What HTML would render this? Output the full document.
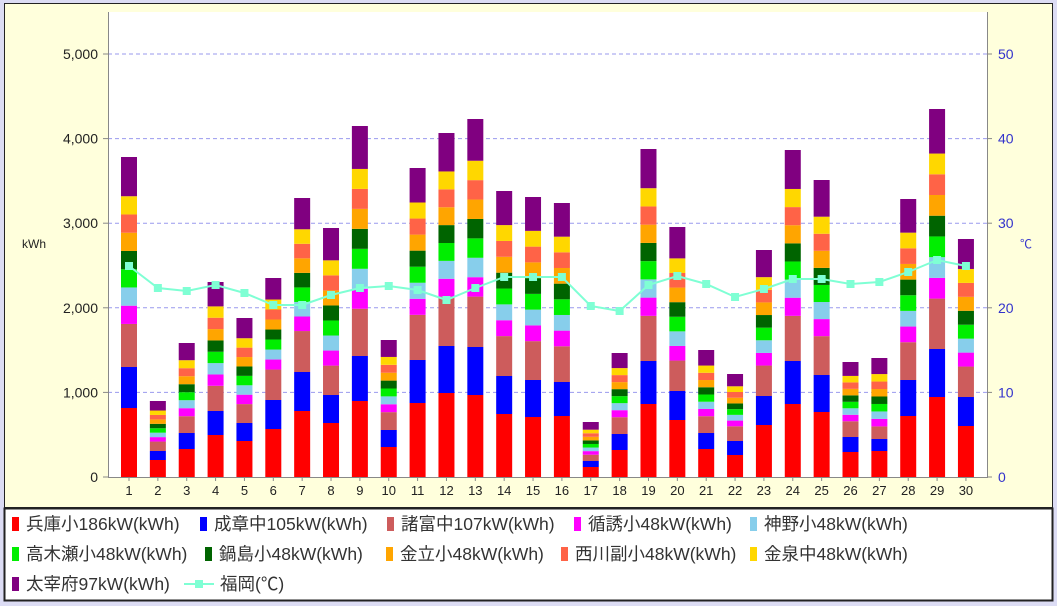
<!DOCTYPE html>
<html><head><meta charset="utf-8"><style>
html,body{margin:0;padding:0;width:1057px;height:606px;overflow:hidden;background:#dcdcf4;}
svg{display:block;font-family:"Liberation Sans","Noto Sans CJK JP",sans-serif;}
</style></head><body>
<svg id="s" width="1057" height="606" xmlns="http://www.w3.org/2000/svg">
<rect x="0" y="0" width="1057" height="606" fill="#dcdcf4"/>
<rect x="4.5" y="3.5" width="1048" height="504" fill="#ffffdc" stroke="#222" stroke-width="1"/>
<rect x="4.5" y="508.5" width="1048" height="92" fill="#fff" stroke="#222" stroke-width="2"/>
<rect x="108" y="12" width="879" height="465" fill="#fff"/>
<g id="g"></g>
<line x1="108.5" y1="12" x2="108.5" y2="478" stroke="#888"/>
<line x1="987.5" y1="12" x2="987.5" y2="478" stroke="#888"/>
<line x1="108" y1="477.5" x2="988" y2="477.5" stroke="#888"/>
<text x="22" y="248" font-size="12" fill="#222">kWh</text>
<text x="1020" y="248" font-size="12" fill="#3333cc">℃</text>
</svg>
<script>
var g=document.getElementById('g'),h='';
var Y0=477,K=84.6/1000;
for(var i=0;i<=5;i++){var y=Y0-i*1000*K;
 if(i>0)h+='<line x1="108" x2="987" y1="'+y+'" y2="'+y+'" stroke="#9999ee" stroke-dasharray="4,3"/>';
 h+='<line x1="103" x2="108" y1="'+y+'" y2="'+y+'" stroke="#888"/><line x1="987" x2="992" y1="'+y+'" y2="'+y+'" stroke="#888"/>';
 h+='<text x="98" y="'+(y+5)+'" font-size="14" text-anchor="end" fill="#222">'+(i==0?'0':i+',000')+'</text>';
 h+='<text x="998" y="'+(y+5)+'" font-size="14" fill="#3333cc">'+(i*10)+'</text>';}
var tot=[157,401,343,282,318,278,198,228,126,340,168,133,119,191,197,203,422,353,149,227,350,374,250,150,180,362,358,199,109,239];
var red=[408,460,449,435,441,429,411,423,401,447,403,393,395,414,417,416,467,450,404,420,449,455,425,404,412,452,451,416,397,426];
var blu=[367,451,433,411,423,400,372,395,356,430,360,346,347,376,380,382,461,434,361,391,433,441,396,361,375,437,439,380,349,397];
var tmp=[266,288,291,285,293,305,305,295,288,286,290,300,288,277,277,277,306,311,285,276,284,297,289,279,279,284,282,272,260,266];
var cols=['#ff0000','#0000ff','#cd5c5c','#ff00ff','#87ceeb','#00ee00','#006400','#ffa500','#ff6347','#ffd700','#800080'];
var w=[1,1,1,1,1,1,1,2.15],pts='';
for(var d=0;d<30;d++){var cx=129+d*28.86,x=cx-8;
 var b=[Y0,red[d],blu[d]];var br=blu[d]-(red[d]-blu[d])*1.05;b.push(br);
 var rest=br-tot[d],cur=br;for(var k=0;k<8;k++){cur-=rest*w[k]/9.15;b.push(cur);}
 for(var k=0;k<11;k++)h+='<rect x="'+x+'" width="16" y="'+b[k+1]+'" height="'+(b[k]-b[k+1])+'" fill="'+cols[k]+'"/>';
 h+='<text x="'+cx+'" y="495" font-size="13" text-anchor="middle" fill="#222">'+(d+1)+'</text>';
 h+='<line x1="'+cx+'" x2="'+cx+'" y1="477" y2="481" stroke="#888"/>';
 pts+=cx+','+tmp[d]+' ';}
h+='<polyline points="'+pts+'" fill="none" stroke="#7fffd4" stroke-width="2"/>';
pts.trim().split(' ').forEach(function(p){var a=p.split(',');h+='<rect x="'+(a[0]-4)+'" y="'+(a[1]-4)+'" width="8" height="8" fill="#7fffd4"/>';});
var L=[[12,524,0,'兵庫小186kW(kWh)'],[200,524,1,'成章中105kW(kWh)'],[387,524,2,'諸富中107kW(kWh)'],[574,524,3,'循誘小48kW(kWh)'],[750,524,4,'神野小48kW(kWh)'],
[12,554,5,'高木瀬小48kW(kWh)'],[205,554,6,'鍋島小48kW(kWh)'],[386,554,7,'金立小48kW(kWh)'],[561,554,8,'西川副小48kW(kWh)'],[750,554,9,'金泉中48kW(kWh)'],[12,584,10,'太宰府97kW(kWh)']];
L.forEach(function(l){h+='<rect x="'+l[0]+'" y="'+(l[1]-7)+'" width="7" height="14" fill="'+cols[l[2]]+'"/><text x="'+(l[0]+14)+'" y="'+(l[1]+6)+'" font-size="17.5" fill="#333">'+l[3]+'</text>';});
h+='<line x1="184" x2="214" y1="584" y2="584" stroke="#7fffd4" stroke-width="2"/><rect x="195" y="580" width="8" height="8" fill="#7fffd4"/><text x="220" y="590" font-size="17.5" fill="#333">福岡(℃)</text>';
g.innerHTML=h;
</script>
</body></html>
